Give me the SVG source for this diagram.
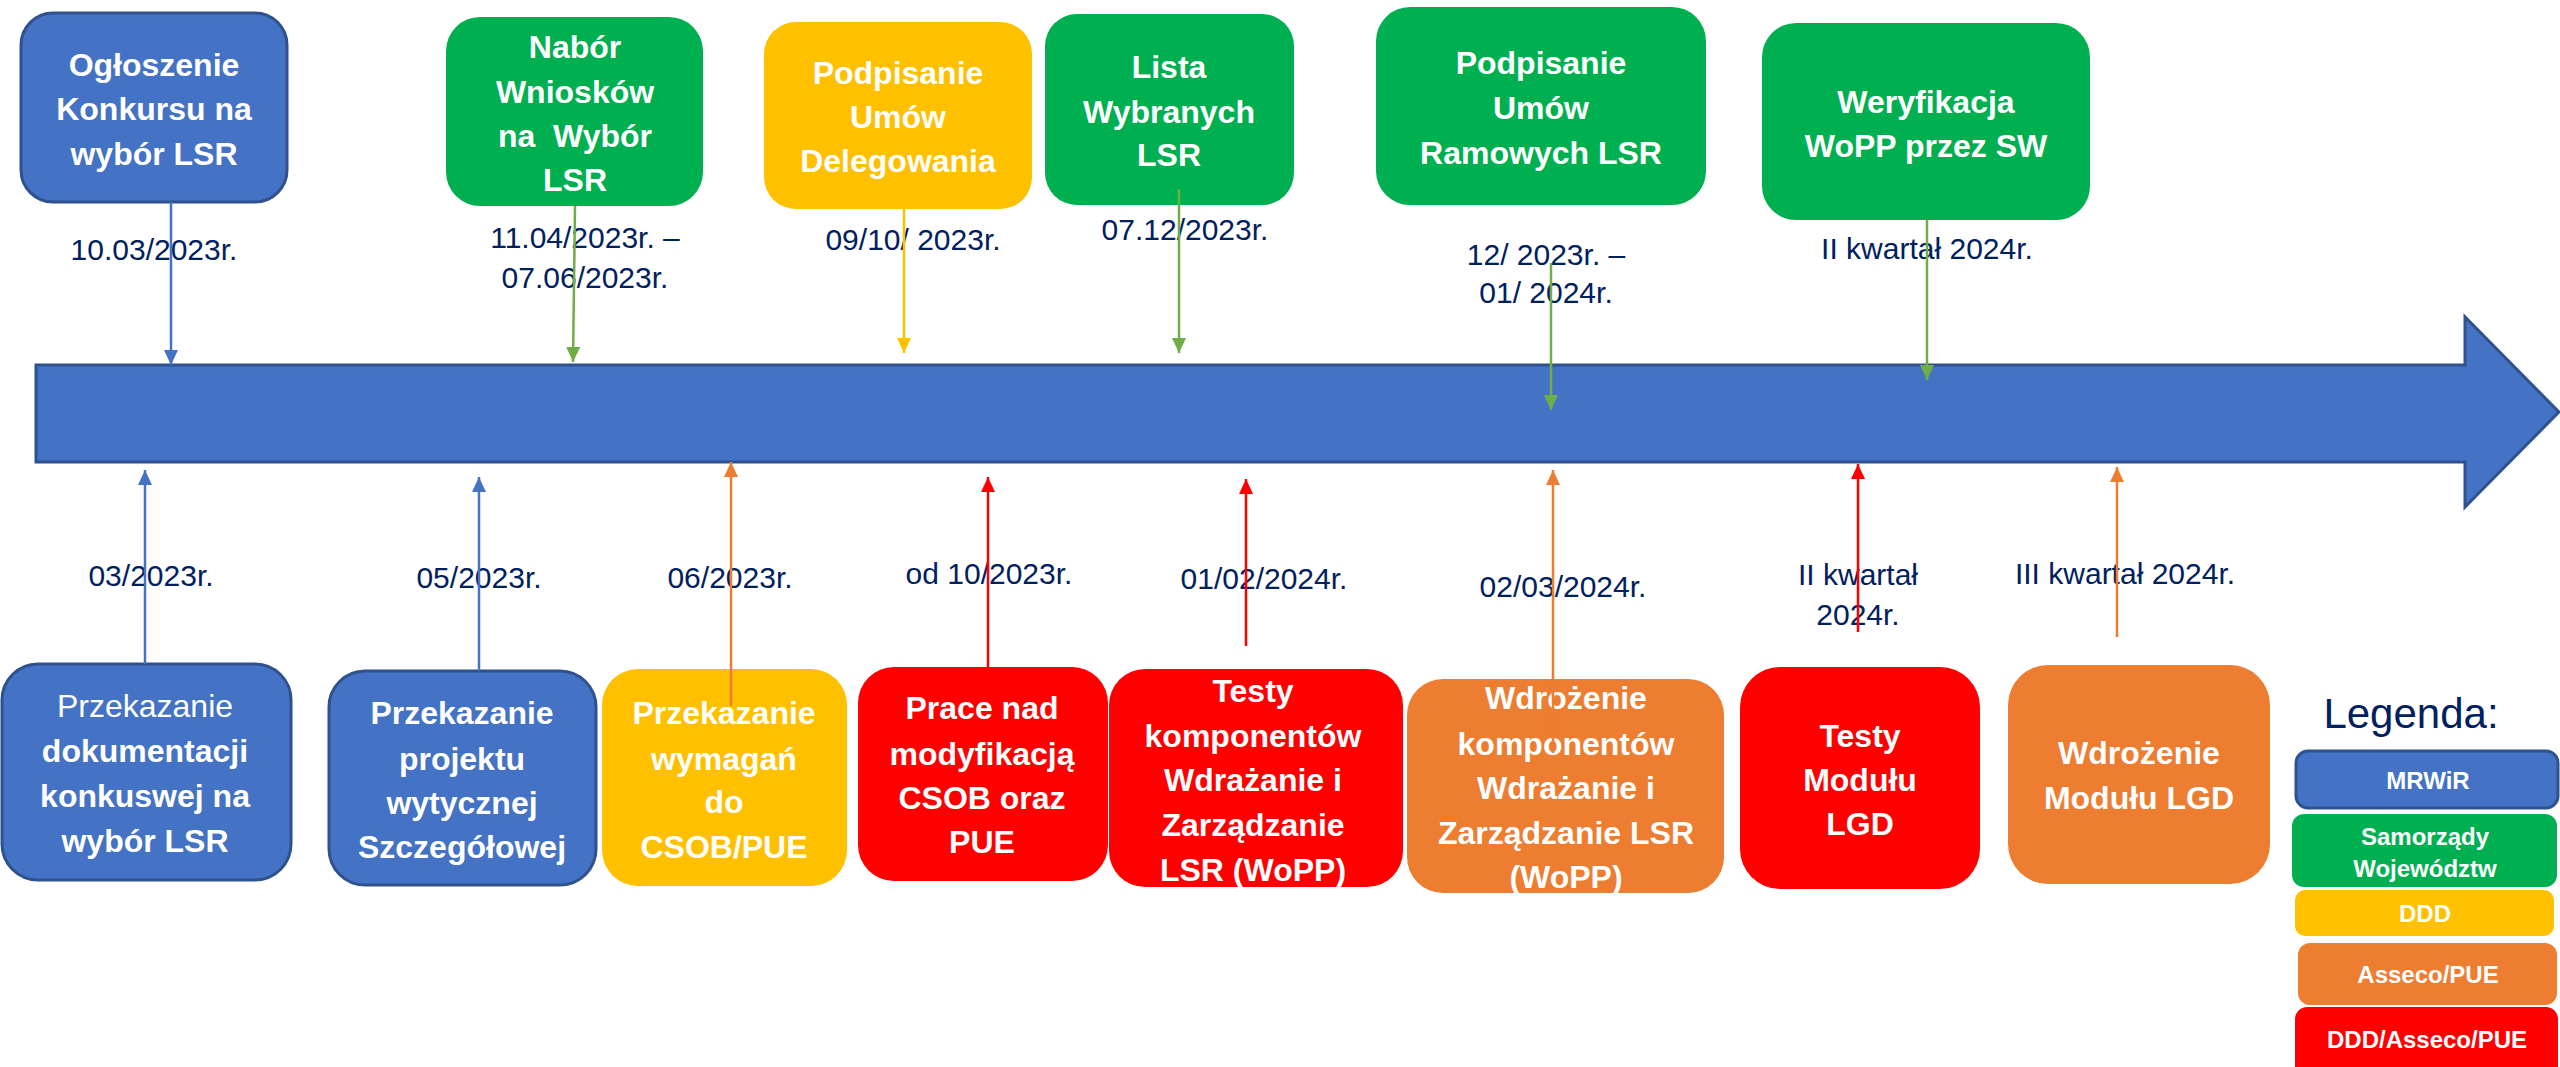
<svg xmlns="http://www.w3.org/2000/svg" width="2560" height="1067" viewBox="0 0 2560 1067">
<defs>
<style>
text{font-family:"Liberation Sans",Arial,sans-serif;}
.bt{font-size:32px;font-weight:bold;fill:#FFFFFF;text-anchor:middle;}
.rt{font-size:32px;font-weight:normal;fill:#FFFFFF;text-anchor:middle;}
.dt{font-size:30px;fill:#002060;text-anchor:middle;}
.lt{font-size:24px;font-weight:bold;fill:#FFFFFF;text-anchor:middle;}
.blue{fill:#4472C4;stroke:#2F528F;stroke-width:3;}
.green{fill:#00B050;}
.yellow{fill:#FFC000;}
.orange{fill:#ED7D31;}
.red{fill:#FF0000;}
.c{fill:none;stroke-width:2.5;}
.cb{stroke:#4472C4;marker-end:url(#mb);}
.cg{stroke:#70AD47;marker-end:url(#mg);}
.cy{stroke:#FFC000;marker-end:url(#my);}
.co{stroke:#ED7D31;marker-end:url(#mo);}
.cr{stroke:#FF0000;marker-end:url(#mr);}
</style>
<marker id="mb" markerUnits="userSpaceOnUse" markerWidth="15" markerHeight="14" refX="15" refY="7" orient="auto"><path d="M0,0 L15,7 L0,14 z" fill="#4472C4"/></marker>
<marker id="mg" markerUnits="userSpaceOnUse" markerWidth="15" markerHeight="14" refX="15" refY="7" orient="auto"><path d="M0,0 L15,7 L0,14 z" fill="#70AD47"/></marker>
<marker id="my" markerUnits="userSpaceOnUse" markerWidth="15" markerHeight="14" refX="15" refY="7" orient="auto"><path d="M0,0 L15,7 L0,14 z" fill="#FFC000"/></marker>
<marker id="mo" markerUnits="userSpaceOnUse" markerWidth="15" markerHeight="14" refX="15" refY="7" orient="auto"><path d="M0,0 L15,7 L0,14 z" fill="#ED7D31"/></marker>
<marker id="mr" markerUnits="userSpaceOnUse" markerWidth="15" markerHeight="14" refX="15" refY="7" orient="auto"><path d="M0,0 L15,7 L0,14 z" fill="#FF0000"/></marker>
</defs>
<rect width="2560" height="1067" fill="#FFFFFF"/>

<g id="timeline">
<polygon points="36,365 2465,365 2465,317 2559,412 2465,507 2465,462 36,462" fill="#4472C4" stroke="#2F528F" stroke-width="3"/>
</g>

<g id="n-ogloszenie">
<rect class="blue" x="21" y="13" width="266" height="189" rx="32"/>
<text class="bt" x="154" y="76">Ogłoszenie</text>
<text class="bt" x="154" y="120">Konkursu na</text>
<text class="bt" x="154" y="165">wybór LSR</text>
<text class="dt" x="154" y="260">10.03/2023r.</text>
</g>

<g id="n-nabor">
<rect class="green" x="446" y="17" width="257" height="189" rx="34"/>
<text class="bt" x="575" y="58">Nabór</text>
<text class="bt" x="575" y="103">Wniosków</text>
<text class="bt" x="575" y="147" xml:space="preserve">na  Wybór</text>
<text class="bt" x="575" y="191">LSR</text>
<text class="dt" x="585" y="248">11.04/2023r. –</text>
<text class="dt" x="585" y="288">07.06/2023r.</text>
</g>

<g id="n-delegowania">
<rect class="yellow" x="764" y="22" width="268" height="187" rx="32"/>
<text class="bt" x="898" y="84">Podpisanie</text>
<text class="bt" x="898" y="128">Umów</text>
<text class="bt" x="898" y="172">Delegowania</text>
<text class="dt" x="913" y="250">09/10/ 2023r.</text>
</g>

<g id="n-lista">
<rect class="green" x="1045" y="14" width="249" height="191" rx="32"/>
<text class="bt" x="1169" y="78">Lista</text>
<text class="bt" x="1169" y="123">Wybranych</text>
<text class="bt" x="1169" y="166">LSR</text>
<text class="dt" x="1185" y="240">07.12/2023r.</text>
</g>

<g id="n-ramowych">
<rect class="green" x="1376" y="7" width="330" height="198" rx="34"/>
<text class="bt" x="1541" y="74">Podpisanie</text>
<text class="bt" x="1541" y="119">Umów</text>
<text class="bt" x="1541" y="164">Ramowych LSR</text>
<text class="dt" x="1546" y="265">12/ 2023r. –</text>
<text class="dt" x="1546" y="303">01/ 2024r.</text>
</g>

<g id="n-weryfikacja">
<rect class="green" x="1762" y="23" width="328" height="197" rx="34"/>
<text class="bt" x="1926" y="113">Weryfikacja</text>
<text class="bt" x="1926" y="157">WoPP przez SW</text>
<text class="dt" x="1927" y="259">II kwartał 2024r.</text>
</g>

<g id="n-dokumentacja">
<rect class="blue" x="2" y="664" width="289" height="216" rx="36"/>
<text class="rt" x="145" y="717">Przekazanie</text>
<text class="bt" x="145" y="762">dokumentacji</text>
<text class="bt" x="145" y="807">konkuswej na</text>
<text class="bt" x="145" y="852">wybór LSR</text>
<text class="dt" x="151" y="586">03/2023r.</text>
</g>

<g id="n-projekt">
<rect class="blue" x="329" y="671" width="267" height="214" rx="36"/>
<text class="bt" x="462" y="724">Przekazanie</text>
<text class="bt" x="462" y="770">projektu</text>
<text class="bt" x="462" y="814">wytycznej</text>
<text class="bt" x="462" y="858">Szczegółowej</text>
<text class="dt" x="479" y="588">05/2023r.</text>
</g>

<g id="n-wymagania">
<rect class="yellow" x="602" y="669" width="245" height="217" rx="36"/>
<text class="bt" x="724" y="724">Przekazanie</text>
<text class="bt" x="724" y="770">wymagań</text>
<text class="bt" x="724" y="813">do</text>
<text class="bt" x="724" y="858">CSOB/PUE</text>
<text class="dt" x="730" y="588">06/2023r.</text>
</g>

<g id="n-prace">
<rect class="red" x="858" y="667" width="250" height="214" rx="36"/>
<text class="bt" x="982" y="719">Prace nad</text>
<text class="bt" x="982" y="765">modyfikacją</text>
<text class="bt" x="982" y="809">CSOB oraz</text>
<text class="bt" x="982" y="853">PUE</text>
<text class="dt" x="989" y="584">od 10/2023r.</text>
</g>

<g id="n-testy-komp">
<rect class="red" x="1109" y="669" width="294" height="218" rx="36"/>
<text class="bt" x="1253" y="702">Testy</text>
<text class="bt" x="1253" y="747">komponentów</text>
<text class="bt" x="1253" y="791">Wdrażanie i</text>
<text class="bt" x="1253" y="836">Zarządzanie</text>
<text class="bt" x="1253" y="881">LSR (WoPP)</text>
<text class="dt" x="1264" y="589">01/02/2024r.</text>
</g>

<g id="n-wdrozenie-komp">
<rect class="orange" x="1407" y="679" width="317" height="214" rx="36"/>
<text class="bt" x="1566" y="709">Wdrożenie</text>
<text class="bt" x="1566" y="755">komponentów</text>
<text class="bt" x="1566" y="799">Wdrażanie i</text>
<text class="bt" x="1566" y="844">Zarządzanie LSR</text>
<text class="bt" x="1566" y="888">(WoPP)</text>
<text class="dt" x="1563" y="597">02/03/2024r.</text>
</g>

<g id="n-testy-lgd">
<rect class="red" x="1740" y="667" width="240" height="222" rx="40"/>
<text class="bt" x="1860" y="747">Testy</text>
<text class="bt" x="1860" y="791">Modułu</text>
<text class="bt" x="1860" y="835">LGD</text>
<text class="dt" x="1858" y="585">II kwartał</text>
<text class="dt" x="1858" y="625">2024r.</text>
</g>

<g id="n-wdrozenie-lgd">
<rect class="orange" x="2008" y="665" width="262" height="219" rx="40"/>
<text class="bt" x="2139" y="764">Wdrożenie</text>
<text class="bt" x="2139" y="809">Modułu LGD</text>
<text class="dt" x="2125" y="584">III kwartał 2024r.</text>
</g>

<g id="legend">
<text x="2411" y="728" font-size="42" fill="#002060" text-anchor="middle">Legenda:</text>
<rect class="blue" x="2296" y="751" width="262" height="57" rx="12"/>
<text class="lt" x="2428" y="789">MRWiR</text>
<rect class="green" x="2292" y="814" width="265" height="73" rx="12"/>
<text class="lt" x="2425" y="845">Samorządy</text>
<text class="lt" x="2425" y="877">Województw</text>
<rect class="yellow" x="2295" y="890" width="259" height="46" rx="10"/>
<text class="lt" x="2425" y="922">DDD</text>
<rect class="orange" x="2298" y="943" width="259" height="62" rx="12"/>
<text class="lt" x="2428" y="983">Asseco/PUE</text>
<rect class="red" x="2295" y="1007" width="263" height="72" rx="12"/>
<text class="lt" x="2427" y="1048">DDD/Asseco/PUE</text>
</g>

<g id="connectors">
<line class="c cb" x1="171" y1="202" x2="171" y2="365"/>
<line class="c cg" x1="575" y1="206" x2="573" y2="362"/>
<line class="c cy" x1="904" y1="209" x2="904" y2="353"/>
<line class="c cg" x1="1179" y1="189" x2="1179" y2="353"/>
<line class="c cg" x1="1551" y1="263" x2="1551" y2="410"/>
<line class="c cg" x1="1927" y1="220" x2="1927" y2="380"/>
<line class="c cb" x1="145" y1="664" x2="145" y2="470"/>
<line class="c cb" x1="479" y1="671" x2="479" y2="477"/>
<line class="c co" x1="731" y1="706" x2="731" y2="462"/>
<line class="c cr" x1="988" y1="667" x2="988" y2="477"/>
<line class="c cr" x1="1246" y1="646" x2="1246" y2="479"/>
<line class="c co" x1="1553" y1="753" x2="1553" y2="470"/>
<line class="c cr" x1="1858" y1="632" x2="1858" y2="464"/>
<line class="c co" x1="2117" y1="637" x2="2117" y2="467"/>
</g>
</svg>
